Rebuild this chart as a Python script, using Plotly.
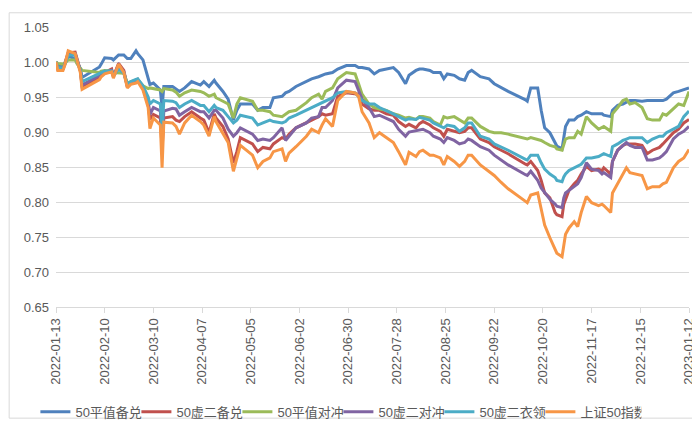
import plotly.graph_objects as go

dates = [
    "2022-01-13", "2022-01-14", "2022-01-17", "2022-01-18", "2022-01-20", "2022-01-24", "2022-01-25", "2022-01-27",
    "2022-01-28", "2022-02-07", "2022-02-08", "2022-02-10", "2022-02-14", "2022-02-15", "2022-02-18", "2022-02-21",
    "2022-02-23", "2022-02-25", "2022-02-28", "2022-03-01", "2022-03-04", "2022-03-07", "2022-03-08", "2022-03-10",
    "2022-03-14", "2022-03-15", "2022-03-16", "2022-03-21", "2022-03-23", "2022-03-25", "2022-03-28", "2022-04-01",
    "2022-04-06", "2022-04-08", "2022-04-11", "2022-04-14", "2022-04-15", "2022-04-19", "2022-04-22", "2022-04-25",
    "2022-04-27", "2022-04-29", "2022-05-06", "2022-05-09", "2022-05-12", "2022-05-16", "2022-05-18", "2022-05-23",
    "2022-05-25", "2022-05-27", "2022-05-31", "2022-06-06", "2022-06-09", "2022-06-13", "2022-06-15", "2022-06-17",
    "2022-06-21", "2022-06-24", "2022-06-29", "2022-07-04", "2022-07-06", "2022-07-08", "2022-07-12", "2022-07-15",
    "2022-07-18", "2022-07-22", "2022-07-26", "2022-07-29", "2022-08-02", "2022-08-04", "2022-08-08", "2022-08-10",
    "2022-08-12", "2022-08-16", "2022-08-18", "2022-08-22", "2022-08-24", "2022-08-26", "2022-08-30", "2022-09-02",
    "2022-09-05", "2022-09-07", "2022-09-09", "2022-09-14", "2022-09-19", "2022-09-22", "2022-09-26", "2022-09-30",
    "2022-10-10", "2022-10-11", "2022-10-13", "2022-10-17", "2022-10-19", "2022-10-21", "2022-10-24", "2022-10-27",
    "2022-10-28", "2022-10-31", "2022-11-01", "2022-11-02", "2022-11-04", "2022-11-07", "2022-11-09", "2022-11-11",
    "2022-11-14", "2022-11-17", "2022-11-21", "2022-11-23", "2022-11-24", "2022-11-28", "2022-11-29", "2022-12-02",
    "2022-12-05", "2022-12-07", "2022-12-09", "2022-12-12", "2022-12-16", "2022-12-19", "2022-12-22", "2022-12-26",
    "2022-12-28", "2022-12-30", "2023-01-03", "2023-01-06", "2023-01-09", "2023-01-12",
]

atm_covered_call = [  # 50平值备兑 (blue)
    1.000, 0.995, 0.993, 0.998, 1.008, 1.005, 1.000, 0.990, 0.978, 0.993, 0.997, 1.006, 1.005, 1.003, 1.010, 1.010,
    1.005, 1.005, 1.016, 1.012, 1.003, 0.975, 0.968, 0.970, 0.960, 0.935, 0.965, 0.965, 0.962, 0.958, 0.963, 0.972,
    0.967, 0.972, 0.965, 0.974, 0.970, 0.958, 0.947, 0.917, 0.931, 0.940, 0.940, 0.931, 0.935, 0.935, 0.949, 0.951,
    0.956, 0.958, 0.965, 0.972, 0.976, 0.979, 0.981, 0.983, 0.985, 0.990, 0.995, 0.995, 0.992, 0.992, 0.990, 0.983,
    0.988, 0.990, 0.992, 0.985, 0.969, 0.981, 0.988, 0.990, 0.990, 0.988, 0.985, 0.985, 0.976, 0.983, 0.981, 0.976,
    0.974, 0.985, 0.988, 0.979, 0.976, 0.969, 0.963, 0.958, 0.946, 0.944, 0.963, 0.963, 0.931, 0.906, 0.899, 0.885,
    0.880, 0.876, 0.895, 0.908, 0.917, 0.917, 0.922, 0.924, 0.929, 0.926, 0.926, 0.926, 0.924, 0.922, 0.931, 0.938,
    0.940, 0.942, 0.945, 0.945, 0.944, 0.945, 0.945, 0.945, 0.945, 0.947, 0.956, 0.958, 0.960, 0.963,
]
otm2_covered_call = [  # 50虚二备兑 (red)
    1.000, 0.990, 0.990, 0.997, 1.013, 1.014, 1.006, 0.988, 0.965, 0.978, 0.981, 0.985, 0.990, 0.979, 0.998, 0.988,
    0.965, 0.970, 0.973, 0.975, 0.963, 0.940, 0.918, 0.925, 0.920, 0.875, 0.920, 0.922, 0.917, 0.915, 0.922, 0.929,
    0.920, 0.917, 0.899, 0.926, 0.920, 0.908, 0.890, 0.856, 0.872, 0.892, 0.883, 0.872, 0.878, 0.876, 0.883, 0.892,
    0.890, 0.897, 0.906, 0.913, 0.917, 0.922, 0.926, 0.924, 0.926, 0.951, 0.956, 0.954, 0.954, 0.940, 0.933, 0.931,
    0.931, 0.926, 0.924, 0.915, 0.908, 0.911, 0.906, 0.912, 0.915, 0.910, 0.906, 0.901, 0.894, 0.904, 0.901, 0.899,
    0.901, 0.906, 0.906, 0.890, 0.885, 0.879, 0.874, 0.869, 0.854, 0.853, 0.858, 0.845, 0.831, 0.813, 0.806, 0.785,
    0.782, 0.779, 0.797, 0.804, 0.817, 0.826, 0.831, 0.840, 0.851, 0.845, 0.847, 0.845, 0.849, 0.840, 0.858, 0.874,
    0.881, 0.883, 0.883, 0.883, 0.881, 0.869, 0.874, 0.878, 0.883, 0.888, 0.899, 0.904, 0.913, 0.918,
]
atm_hedge = [  # 50平值对冲 (green)
    1.000, 0.998, 0.997, 0.998, 1.003, 1.003, 0.998, 0.992, 0.988, 0.985, 0.987, 0.988, 0.987, 0.985, 0.985, 0.984,
    0.970, 0.972, 0.975, 0.975, 0.966, 0.962, 0.963, 0.962, 0.960, 0.958, 0.962, 0.960, 0.957, 0.951, 0.956, 0.960,
    0.958, 0.956, 0.951, 0.954, 0.949, 0.944, 0.940, 0.920, 0.940, 0.949, 0.944, 0.931, 0.931, 0.929, 0.924, 0.922,
    0.926, 0.929, 0.931, 0.942, 0.949, 0.954, 0.947, 0.958, 0.963, 0.976, 0.985, 0.983, 0.969, 0.954, 0.940, 0.935,
    0.933, 0.931, 0.926, 0.924, 0.920, 0.921, 0.918, 0.922, 0.922, 0.920, 0.915, 0.910, 0.922, 0.920, 0.922, 0.917,
    0.913, 0.920, 0.920, 0.908, 0.901, 0.899, 0.899, 0.897, 0.890, 0.890, 0.892, 0.890, 0.888, 0.885, 0.881, 0.879,
    0.876, 0.874, 0.883, 0.890, 0.892, 0.892, 0.901, 0.897, 0.922, 0.913, 0.904, 0.906, 0.908, 0.901, 0.926, 0.935,
    0.945, 0.947, 0.940, 0.942, 0.935, 0.919, 0.917, 0.917, 0.926, 0.924, 0.933, 0.940, 0.938, 0.958,
]
otm2_hedge = [  # 50虚二对冲 (purple)
    1.000, 0.990, 0.990, 0.996, 1.012, 1.012, 1.004, 0.988, 0.967, 0.980, 0.982, 0.985, 0.988, 0.980, 0.996, 0.986,
    0.965, 0.970, 0.972, 0.974, 0.964, 0.945, 0.925, 0.935, 0.930, 0.885, 0.930, 0.934, 0.933, 0.924, 0.929, 0.935,
    0.929, 0.929, 0.920, 0.931, 0.931, 0.920, 0.904, 0.894, 0.899, 0.906, 0.897, 0.888, 0.890, 0.888, 0.892, 0.906,
    0.888, 0.894, 0.906, 0.913, 0.920, 0.922, 0.935, 0.935, 0.945, 0.963, 0.974, 0.972, 0.958, 0.947, 0.935, 0.922,
    0.924, 0.920, 0.915, 0.904, 0.894, 0.900, 0.902, 0.903, 0.904, 0.899, 0.894, 0.890, 0.885, 0.892, 0.888, 0.883,
    0.885, 0.890, 0.888, 0.879, 0.874, 0.867, 0.860, 0.853, 0.839, 0.838, 0.844, 0.831, 0.820, 0.813, 0.804, 0.797,
    0.794, 0.792, 0.806, 0.813, 0.817, 0.822, 0.826, 0.835, 0.856, 0.847, 0.845, 0.840, 0.842, 0.835, 0.858, 0.874,
    0.881, 0.885, 0.881, 0.878, 0.878, 0.860, 0.860, 0.863, 0.867, 0.872, 0.890, 0.897, 0.901, 0.908,
]
otm2_collar = [  # 50虚二衣领 (cyan)
    1.000, 0.992, 0.991, 0.996, 1.010, 1.010, 1.002, 0.988, 0.972, 0.984, 0.985, 0.987, 0.987, 0.980, 0.990, 0.984,
    0.968, 0.972, 0.975, 0.976, 0.966, 0.950, 0.940, 0.945, 0.940, 0.900, 0.945, 0.944, 0.942, 0.935, 0.940, 0.945,
    0.938, 0.938, 0.929, 0.938, 0.935, 0.931, 0.922, 0.913, 0.917, 0.924, 0.920, 0.910, 0.913, 0.917, 0.915, 0.913,
    0.915, 0.920, 0.924, 0.931, 0.935, 0.940, 0.942, 0.945, 0.949, 0.956, 0.958, 0.956, 0.951, 0.945, 0.940, 0.940,
    0.935, 0.931, 0.926, 0.922, 0.917, 0.919, 0.918, 0.921, 0.920, 0.917, 0.913, 0.908, 0.906, 0.910, 0.908, 0.901,
    0.906, 0.913, 0.913, 0.894, 0.890, 0.883, 0.879, 0.874, 0.861, 0.860, 0.867, 0.867, 0.856, 0.847, 0.840, 0.835,
    0.831, 0.829, 0.836, 0.840, 0.845, 0.849, 0.851, 0.854, 0.863, 0.863, 0.865, 0.867, 0.869, 0.865, 0.879, 0.883,
    0.888, 0.890, 0.892, 0.892, 0.892, 0.885, 0.890, 0.894, 0.894, 0.899, 0.904, 0.908, 0.922, 0.930,
]
sse50_index = [  # 上证50指数 (orange)
    1.000, 0.988, 0.988, 0.995, 1.016, 1.012, 1.003, 0.985, 0.961, 0.975, 0.979, 0.983, 0.986, 0.977, 0.997, 0.985,
    0.963, 0.968, 0.970, 0.972, 0.960, 0.935, 0.905, 0.920, 0.910, 0.849, 0.914, 0.913, 0.908, 0.897, 0.913, 0.924,
    0.915, 0.910, 0.894, 0.922, 0.915, 0.899, 0.885, 0.844, 0.863, 0.881, 0.867, 0.849, 0.858, 0.863, 0.872, 0.876,
    0.858, 0.870, 0.879, 0.894, 0.904, 0.899, 0.910, 0.919, 0.908, 0.945, 0.958, 0.956, 0.951, 0.929, 0.913, 0.892,
    0.899, 0.892, 0.885, 0.872, 0.853, 0.871, 0.865, 0.872, 0.874, 0.867, 0.867, 0.863, 0.853, 0.865, 0.858, 0.851,
    0.858, 0.867, 0.867, 0.853, 0.844, 0.838, 0.828, 0.819, 0.801, 0.799, 0.810, 0.813, 0.790, 0.767, 0.749, 0.731,
    0.727, 0.722, 0.740, 0.754, 0.763, 0.772, 0.765, 0.785, 0.808, 0.799, 0.795, 0.797, 0.795, 0.785, 0.813, 0.826,
    0.840, 0.849, 0.842, 0.840, 0.838, 0.819, 0.822, 0.822, 0.826, 0.828, 0.849, 0.858, 0.863, 0.875,
]

series_names = ["50平值备兑", "50虚二备兑", "50平值对冲", "50虚二对冲", "50虚二衣领", "上证50指数"]
series_values = [atm_covered_call, otm2_covered_call, atm_hedge, otm2_hedge, otm2_collar, sse50_index]
colors = ["#4F81BD", "#C0504D", "#9BBB59", "#8064A2", "#4BACC6", "#F79646"]

tick_dates = [
    "2022-01-13", "2022-02-10", "2022-03-10", "2022-04-07", "2022-05-05", "2022-06-02", "2022-06-30",
    "2022-07-28", "2022-08-25", "2022-09-22", "2022-10-20", "2022-11-17", "2022-12-15", "2023-01-12",
]
y_ticks = [0.65, 0.70, 0.75, 0.80, 0.85, 0.90, 0.95, 1.00, 1.05]

FONT = "Liberation Sans, Arial, Noto Sans CJK SC, sans-serif"
TXT = "#595959"
GRID = "#D9D9D9"

fig = go.Figure()
for name, vals, col in zip(series_names, series_values, colors):
    fig.add_trace(go.Scatter(
        x=dates, y=vals, name=name, mode="lines",
        line=dict(color=col, width=3), hoverinfo="x+y+name",
    ))

fig.update_layout(
    width=700, height=430,
    margin=dict(l=48, r=17, t=16, b=119),
    paper_bgcolor="white", plot_bgcolor="white",
    font=dict(family=FONT, size=13, color=TXT),
    showlegend=True,
    legend=dict(
        orientation="h", xref="container", yref="container",
        x=0.472, xanchor="center", y=0.061, yanchor="middle",
        font=dict(family=FONT, size=13, color=TXT),
        itemwidth=30, entrywidth=56, entrywidthmode="pixels",
        bgcolor="rgba(0,0,0,0)",
    ),
    xaxis=dict(
        type="date", range=[tick_dates[0], tick_dates[-1]],
        tickvals=tick_dates, ticktext=tick_dates, tickangle=-90,
        showgrid=False, showline=True, linecolor=GRID, linewidth=1,
        ticks="outside", ticklen=5, tickcolor=GRID,
        tickfont=dict(family=FONT, size=13, color=TXT), zeroline=False,
    ),
    yaxis=dict(
        range=[0.65, 1.05], tickvals=y_ticks, tickformat=".2f",
        showgrid=True, gridcolor=GRID, gridwidth=1, showline=False, zeroline=False,
        tickfont=dict(family=FONT, size=13, color=TXT), ticks="",
        ticklabelstandoff=6,
    ),
    shapes=[dict(
        type="rect", xref="paper", yref="paper",
        x0=-0.0740, x1=1.0236, y0=-0.3966, y1=1.0508,
        line=dict(color=GRID, width=1), fillcolor="rgba(0,0,0,0)", layer="below",
    )],
)

fig.write_html("out.html")
